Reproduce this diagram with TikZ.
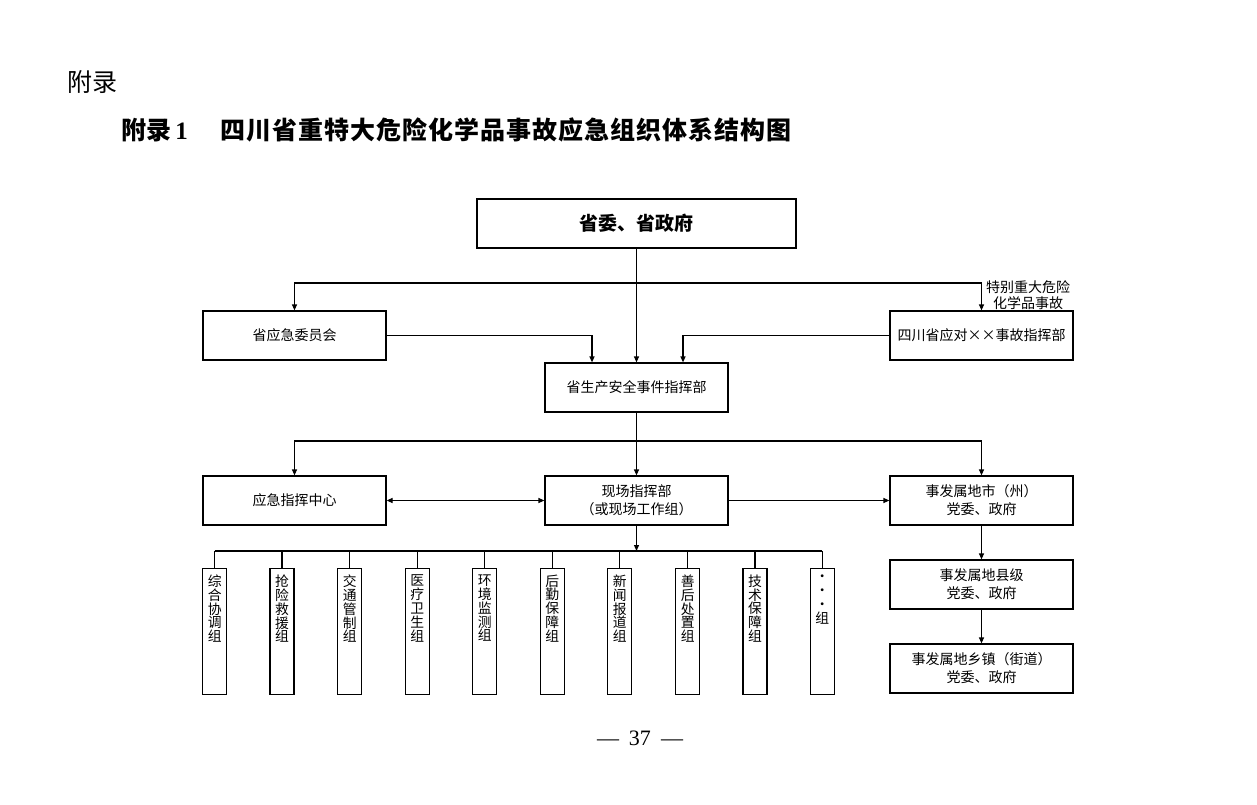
\documentclass[tikz,border=0pt]{standalone}
\usepackage{fontspec}
\setmainfont{Liberation Serif}
\newfontfamily\cjk{Noto Sans CJK SC}
\usetikzlibrary{arrows.meta}
\tikzset{
  box/.style={draw, line width=1.2pt, minimum width=183pt, minimum height=49pt, inner sep=0pt, align=center, font=\cjk\fontsize{14}{18}\selectfont},
  grp/.style={draw, line width=1.2pt, anchor=north, inner xsep=0pt, inner ysep=0pt, font=\cjk\fontsize{13.8}{13.9}\selectfont},
  con/.style={line width=1.2pt},
  arr/.style={con, -{Triangle[length=6pt,width=5pt]}},
  dbl/.style={con, {Triangle[length=6pt,width=5pt]}-{Triangle[length=6pt,width=5pt]}}
}
\newcommand{\gtext}[1]{\parbox[t][126pt][t]{24pt}{\centering\vspace*{6pt}#1}}
\begin{document}
\begin{tikzpicture}[x=1pt,y=-1pt]
\useasboundingbox[fill=white] (0,0) rectangle (1257,805);
% titles
\node[anchor=west, inner sep=0pt, font=\cjk\fontsize{25}{28}\selectfont] (t0) at (67,82) {附录};
\node[anchor=west, inner sep=0pt, font=\cjk\bfseries\fontsize{25}{28}\selectfont] (t1) at (121,130) {附录{\rmfamily\bfseries\,1}\hspace{33pt}{\addfontfeature{LetterSpace=4}四川省重特大危险化学品事故应急组织体系结构图}};
% boxes
\node[box, minimum width=319pt, font=\cjk\bfseries\fontsize{19}{22}\selectfont] (top) at (636.5,223.5) {省委、省政府};
\node[box] (yjw) at (294.5,335.5) {省应急委员会};
\node[box] (scz) at (981.5,335.5) {四川省应对××事故指挥部};
\node[box] (sc) at (636.5,387.5) {省生产安全事件指挥部};
\node[box] (yjzx) at (294.5,500.5) {应急指挥中心};
\node[box] (xc) at (636.5,500.5) {现场指挥部\\（或现场工作组）};
\node[box] (city) at (981.5,500.5) {事发属地市（州）\\党委、政府};
\node[box] (county) at (981.5,584.5) {事发属地县级\\党委、政府};
\node[box] (town) at (981.5,668.5) {事发属地乡镇（街道）\\党委、政府};
% label
\node[inner sep=0pt, align=center, font=\cjk\fontsize{14}{16}\selectfont] (lbl) at (1028,295) {特别重大危险\\化学品事故};
% group boxes
\node[grp] (g1) at (214.7,568) {\gtext{综\\合\\协\\调\\组}};
\node[grp] (g2) at (282,568) {\gtext{抢\\险\\救\\援\\组}};
\node[grp] (g3) at (349.7,568) {\gtext{交\\通\\管\\制\\组}};
\node[grp] (g4) at (417.3,568) {\gtext{医\\疗\\卫\\生\\组}};
\node[grp] (g5) at (484.7,568) {\gtext{环\\境\\监\\测\\组}};
\node[grp] (g6) at (552.3,568) {\gtext{后\\勤\\保\\障\\组}};
\node[grp] (g7) at (619.7,568) {\gtext{新\\闻\\报\\道\\组}};
\node[grp] (g8) at (687.7,568) {\gtext{善\\后\\处\\置\\组}};
\node[grp] (g9) at (755,568) {\gtext{技\\术\\保\\障\\组}};
\node[grp] (g10) at (822.3,568) {\gtext{•\\•\\•\\组}};
% page number
\node[inner sep=0pt, font=\fontsize{22}{26}\selectfont] (pg) at (640,738) {—\hspace{10pt}37\hspace{10pt}—};
% connectors
\coordinate (b1) at (0,283);
\coordinate (b2) at (0,441);
\coordinate (b3) at (0,551);
\draw[arr] (top.south) -- (sc.north);
\draw[arr] (top.south |- b1) -| (yjw.north);
\draw[arr] (top.south |- b1) -| (scz.north);
\draw[arr] (yjw.east) -| ([xshift=-44.5pt]sc.north);
\draw[arr] (scz.west) -| ([xshift=46.5pt]sc.north);
\draw[arr] (sc.south) -- (xc.north);
\draw[arr] (sc.south |- b2) -| (yjzx.north);
\draw[arr] (sc.south |- b2) -| (city.north);
\draw[dbl] (yjzx.east) -- (xc.west);
\draw[arr] (xc.east) -- (city.west);
\draw[arr] (city.south) -- (county.north);
\draw[arr] (county.south) -- (town.north);
\draw[arr] (xc.south) -- (xc.south |- b3);
\draw[con] (g1.north |- b3) -- (g10.north |- b3);
\foreach \g in {g1,g2,g3,g4,g5,g6,g7,g8,g9,g10}{
  \draw[con] (\g.north |- b3) -- (\g.north);
}
\end{tikzpicture}
\end{document}
